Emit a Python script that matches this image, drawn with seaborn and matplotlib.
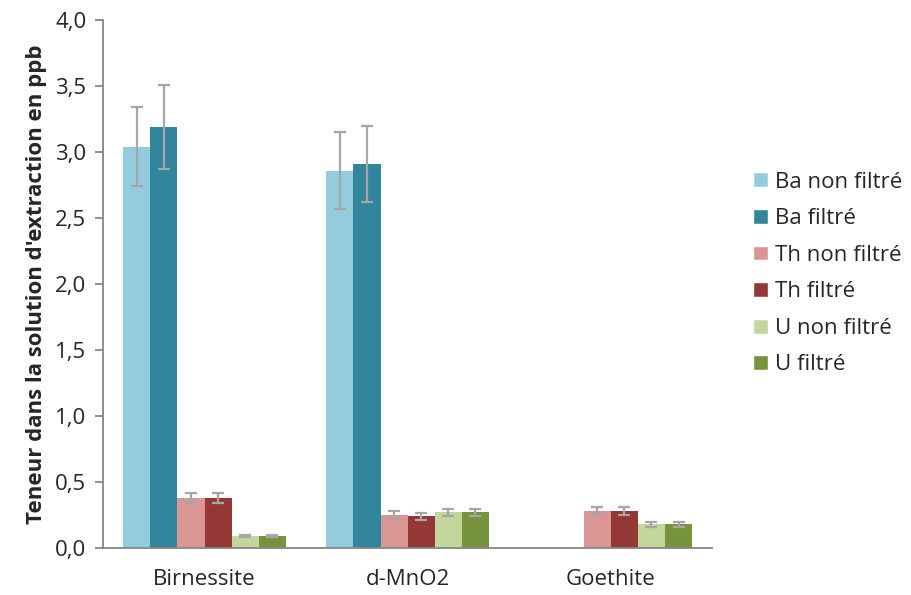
import numpy as np
import pandas as pd
import matplotlib
matplotlib.use("Agg")
import matplotlib.pyplot as plt
import seaborn as sns
from matplotlib.patches import Patch
from matplotlib.ticker import FixedLocator

# values
minerals = ["Birnessite", "d-MnO2", "Goethite"]
series = ["Ba non filtré", "Ba filtré", "Th non filtré", "Th filtré", "U non filtré", "U filtré"]
ba_nf = [3.04, 2.86, 0.0]
ba_f = [3.19, 2.91, 0.0]
th_nf = [0.38, 0.25, 0.28]
th_f = [0.38, 0.24, 0.28]
u_nf = [0.09, 0.27, 0.18]
u_f = [0.09, 0.27, 0.18]
err_ba_nf = [0.30, 0.29, 0.0]
err_ba_f = [0.32, 0.29, 0.0]
err_th_nf = [0.04, 0.03, 0.03]
err_th_f = [0.04, 0.027, 0.03]
err_u_nf = [0.01, 0.028, 0.02]
err_u_f = [0.01, 0.028, 0.02]
colors = ["#93CDDD", "#31859C", "#D99694", "#953735", "#C3D69B", "#77933C"]

values = [ba_nf, ba_f, th_nf, th_f, u_nf, u_f]
errors = [err_ba_nf, err_ba_f, err_th_nf, err_th_f, err_u_nf, err_u_f]

rows = []
for s, vals, errs in zip(series, values, errors):
    for m, v, e in zip(minerals, vals, errs):
        rows.append({"Minéral": m, "Série": s, "Teneur": v, "Erreur": e})
df = pd.DataFrame(rows)

sns.set_style("white")
plt.rcParams["font.family"] = ["Open Sans", "DejaVu Sans"]
fs = 16

fig = plt.figure(figsize=(9.11, 5.95), dpi=100)
ax = fig.add_axes([0.113, 0.079, 0.669, 0.887])

sns.barplot(data=df, x="Minéral", y="Teneur", hue="Série", order=minerals,
            hue_order=series, palette=colors, saturation=1, errorbar=None,
            width=0.8, legend=False, linewidth=0, ax=ax)

# error bars on top of the bars seaborn placed
for cont, s in zip(ax.containers, series):
    sub = df[df["Série"] == s].set_index("Minéral").loc[minerals]
    for bar, (v, e) in zip(cont, zip(sub["Teneur"], sub["Erreur"])):
        if e <= 0:
            continue
        xc = bar.get_x() + bar.get_width() / 2
        ax.errorbar(xc, v, yerr=e, fmt="none", ecolor="#A6A6A6",
                    elinewidth=1.6, capsize=4.3, capthick=1.6, zorder=3)

ax.set_ylim(0, 4.0)
ax.set_xlim(-0.5, 2.5)
yt = np.arange(0, 4.01, 0.5)
ax.set_yticks(yt)
ax.set_yticklabels([f"{t:.1f}".replace(".", ",") for t in yt], fontsize=fs)
ax.tick_params(axis="x", which="major", length=0, labelsize=fs, pad=15)
ax.xaxis.set_minor_locator(FixedLocator([-0.5, 0.5, 1.5, 2.5]))
ax.tick_params(axis="x", which="minor", length=7, width=1.3, color="#868686", direction="out")
ax.tick_params(axis="y", length=6, width=1.3, color="#868686", direction="out", left=True, pad=6)

for side in ["top", "right"]:
    ax.spines[side].set_visible(False)
for side in ["left", "bottom"]:
    ax.spines[side].set_color("#868686")
    ax.spines[side].set_linewidth(1.3)

ax.set_xlabel("")
ax.set_ylabel("Teneur dans la solution d'extraction en ppb", fontsize=fs,
              fontweight="bold", labelpad=6)

handles = [Patch(facecolor=c, label=s) for c, s in zip(colors, series)]
ax.legend(handles=handles, loc="center left", bbox_to_anchor=(1.067, 0.52),
          frameon=False, fontsize=fs, handlelength=0.65, handleheight=0.65,
          handletextpad=0.35, labelspacing=0.7, borderaxespad=0, borderpad=0)

fig.savefig("out.png", dpi=100)
